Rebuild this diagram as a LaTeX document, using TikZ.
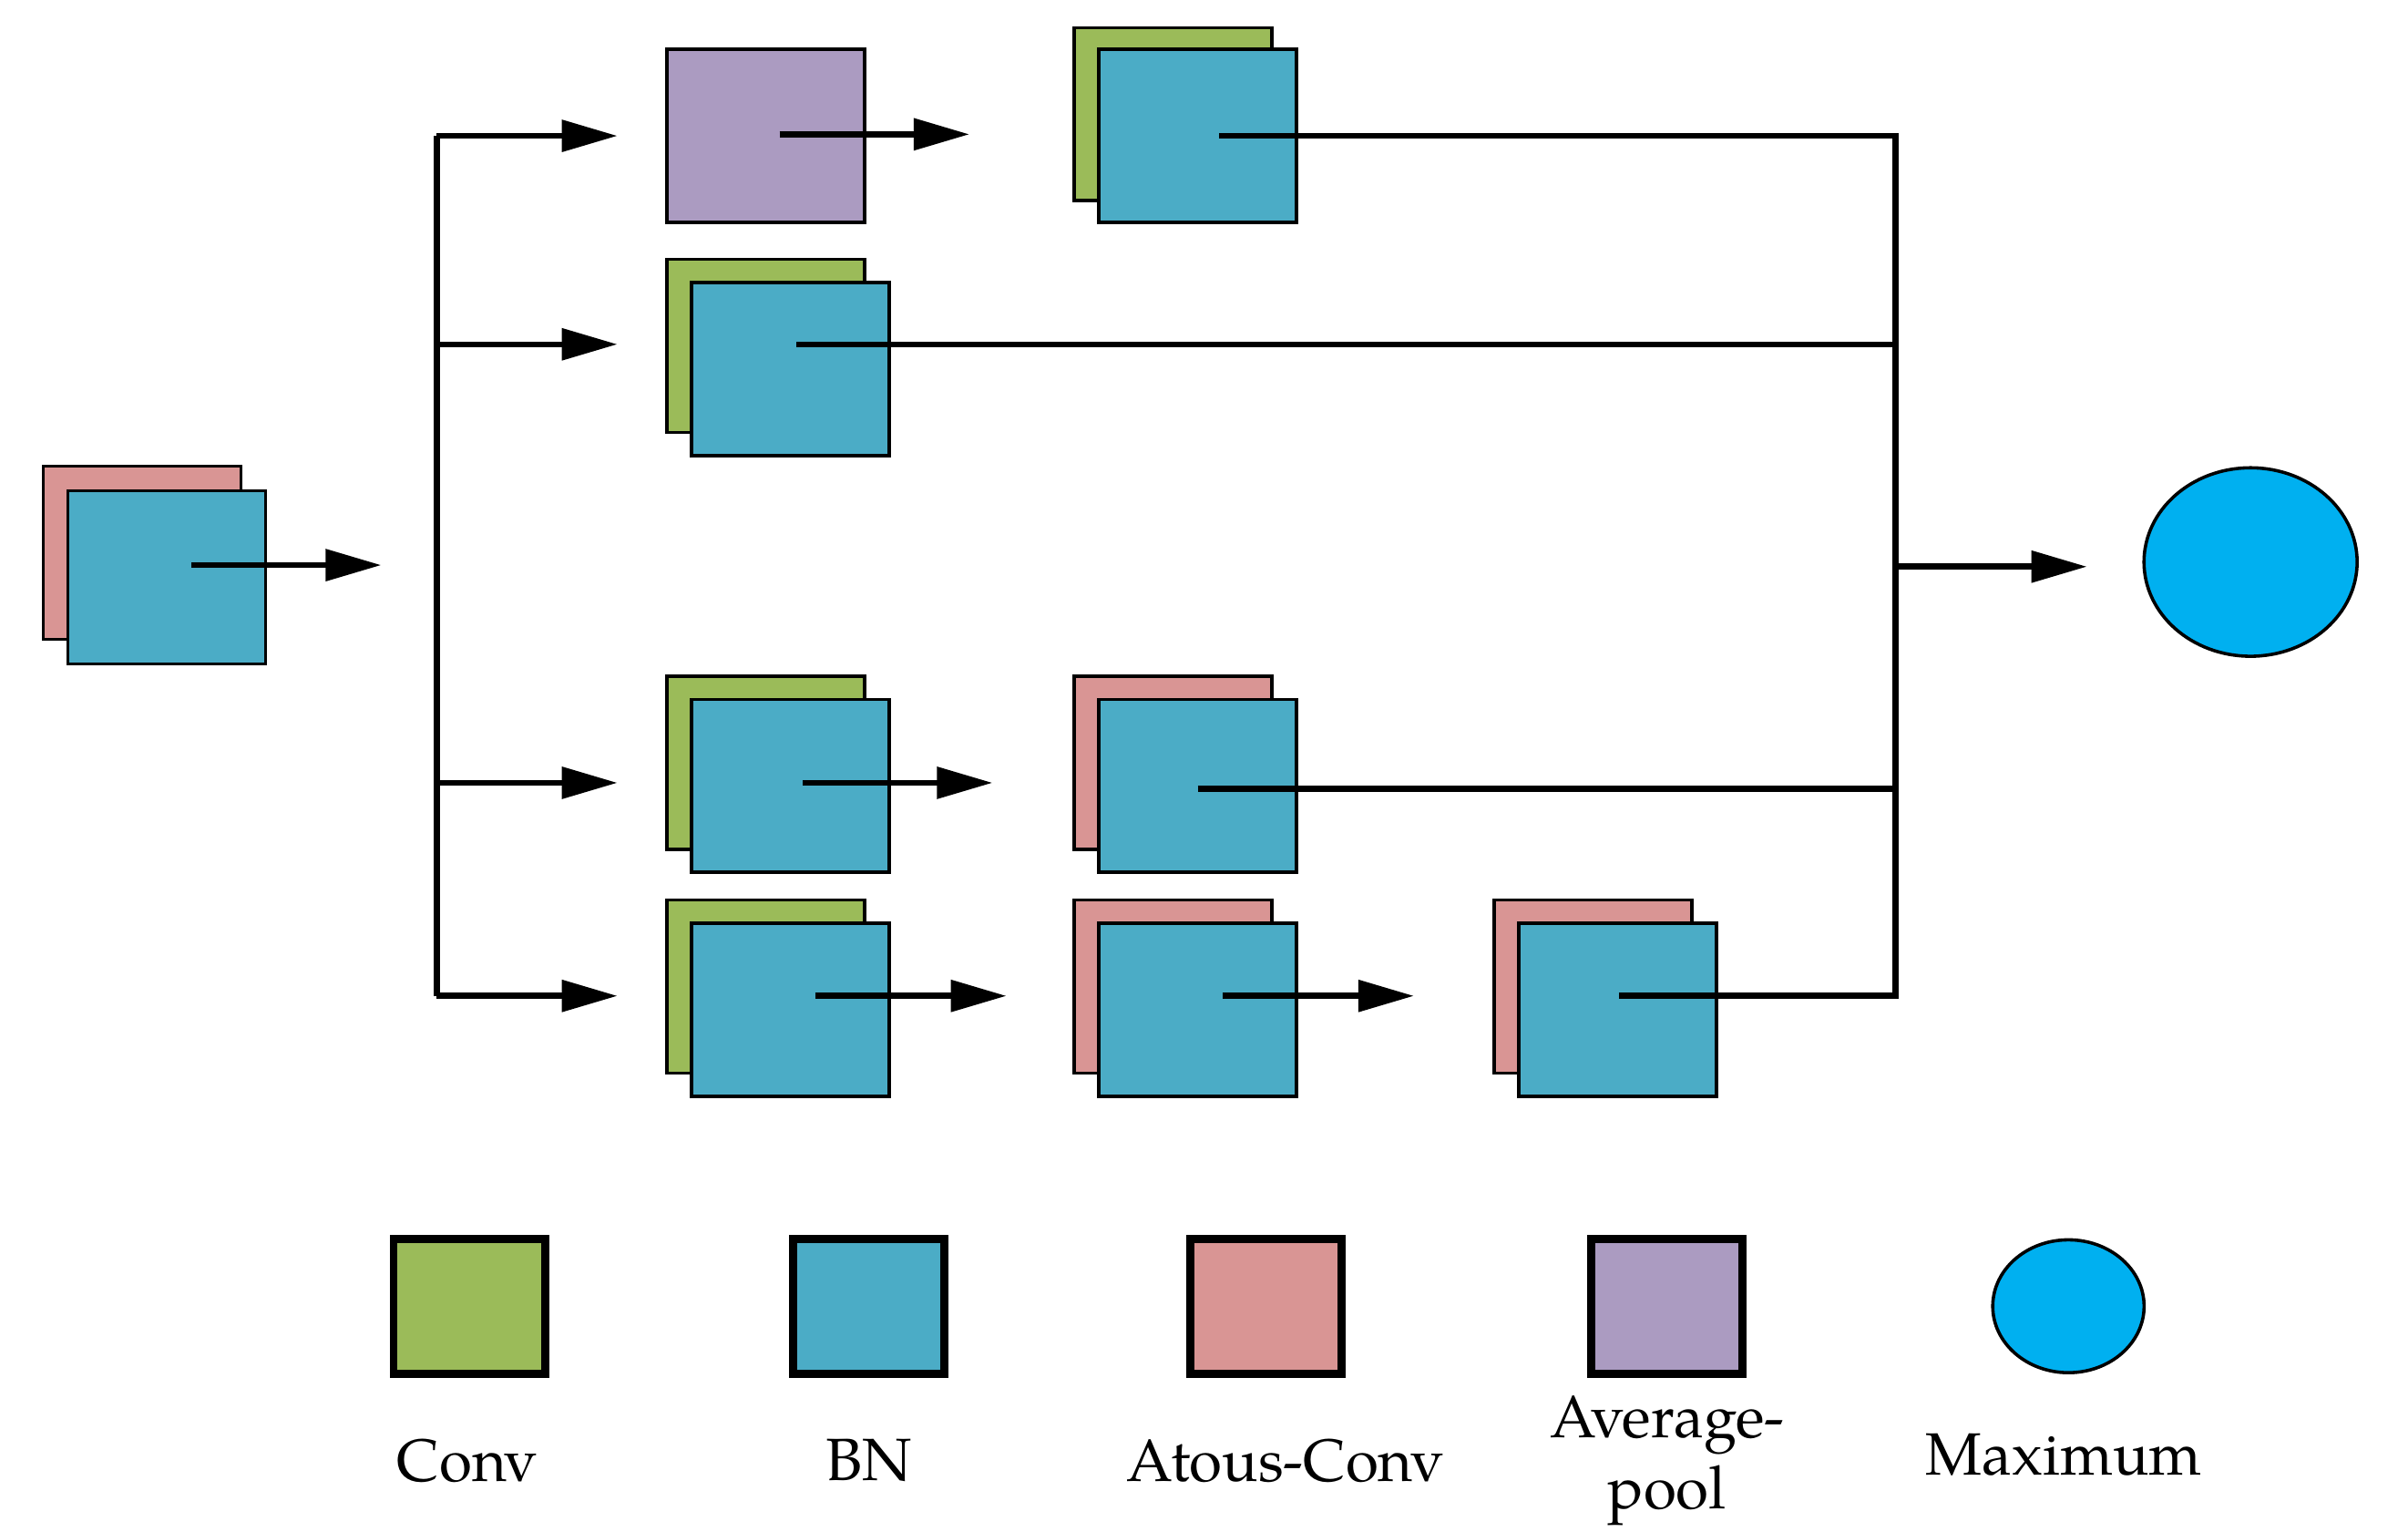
\documentclass[tikz,border=0pt]{standalone}
\usepackage{fontspec}
\setmainfont{TeX Gyre Pagella}
\usetikzlibrary{arrows.meta,shapes.geometric}
\definecolor{cgreen}{RGB}{155,187,89}
\definecolor{cblue}{RGB}{75,172,198}
\definecolor{cpink}{RGB}{217,149,148}
\definecolor{cpurple}{RGB}{171,155,193}
\definecolor{ccyan}{RGB}{0,176,240}
\begin{document}
\begin{tikzpicture}[x=0.01cm,y=-0.01cm,
  box/.style={draw=black,line width=0.6pt,minimum width=1.28cm,minimum height=1.12cm,inner sep=0pt},
  gbox/.style={box,fill=cgreen},bbox/.style={box,fill=cblue},
  pbox/.style={box,fill=cpink},ubox/.style={box,fill=cpurple},
  leg/.style={draw=black,line width=1.5pt,minimum width=0.98cm,minimum height=0.87cm,inner sep=0pt},
  ln/.style={line width=1.1pt},
  arr/.style={ln,-{Triangle[length=0.36cm,width=0.2cm]}},
  lab/.style={font=\fontsize{11}{12}\selectfont,align=center}]
\useasboundingbox (0,0) rectangle (1560,992);
% input
\node[pbox] (i1) at (92,358) {};
\node[bbox] (i2) at (108,374) {};
\coordinate (ia) at (247,366);
\draw[arr] (124,366) -- (ia);
% splitter
\coordinate (s1) at (283,88); \coordinate (s4) at (283,645);
\draw[ln] (s1) -- (s4);
\foreach \y/\n in {88/a,223/b,507/c,645/d}{
  \coordinate (t\n) at (400,\y);
  \draw[arr] (283,\y) -- (t\n);}
% row1
\node[ubox] (r1a) at (496,88) {};
\node[gbox] (r1b) at (760,74) {};
\node[bbox] (r1c) at (776,88) {};
\coordinate (r1t) at (628,87);
\draw[arr] (505,87) -- (r1t);
% row2
\node[gbox] (r2a) at (496,224) {};
\node[bbox] (r2b) at (512,239) {};
% row3
\node[gbox] (r3a) at (496,494) {};
\node[bbox] (r3b) at (512,509) {};
\node[pbox] (r3c) at (760,494) {};
\node[bbox] (r3d) at (776,509) {};
\coordinate (r3t) at (643,507);
\draw[arr] (520,507) -- (r3t);
% row4
\node[gbox] (r4a) at (496,639) {};
\node[bbox] (r4b) at (512,654) {};
\node[pbox] (r4c) at (760,639) {};
\node[bbox] (r4d) at (776,654) {};
\node[pbox] (r4e) at (1032,639) {};
\node[bbox] (r4f) at (1048,654) {};
\coordinate (r4t1) at (652,645); \coordinate (r4t2) at (916,645);
\draw[arr] (528,645) -- (r4t1);
\draw[arr] (792,645) -- (r4t2);
% merge
\coordinate (m1) at (1228,88); \coordinate (m4) at (1228,645);
\draw[ln] (790,88) -- (m1) -- (m4) -- (1049,645);
\draw[ln] (516,223) -- (1228,223);
\draw[ln] (776,511) -- (1228,511);
\node[ellipse,draw=black,line width=0.6pt,fill=ccyan,minimum width=1.38cm,minimum height=1.22cm,inner sep=0pt] (out) at (1458,364) {};
\coordinate (ot) at (1352,367);
\draw[arr] (1228,367) -- (ot);
% legend
\node[leg,fill=cgreen] (l1) at (304,846) {};
\node[leg,fill=cblue] (l2) at (563,846) {};
\node[leg,fill=cpink] (l3) at (820,846) {};
\node[leg,fill=cpurple] (l4) at (1080,846) {};
\node[ellipse,draw=black,line width=0.6pt,fill=ccyan,minimum width=0.98cm,minimum height=0.86cm,inner sep=0pt] (l5) at (1340,846) {};
\node[lab] at (303,946) {Conv};
\node[lab] at (563,946) {BN};
\node[lab] at (833,946) {Atous-Conv};
\node[lab,font=\fontsize{11}{13}\selectfont] at (1080,946) {Average-\\pool};
\node[lab] at (1337,942) {Maximum};
\end{tikzpicture}
\end{document}
